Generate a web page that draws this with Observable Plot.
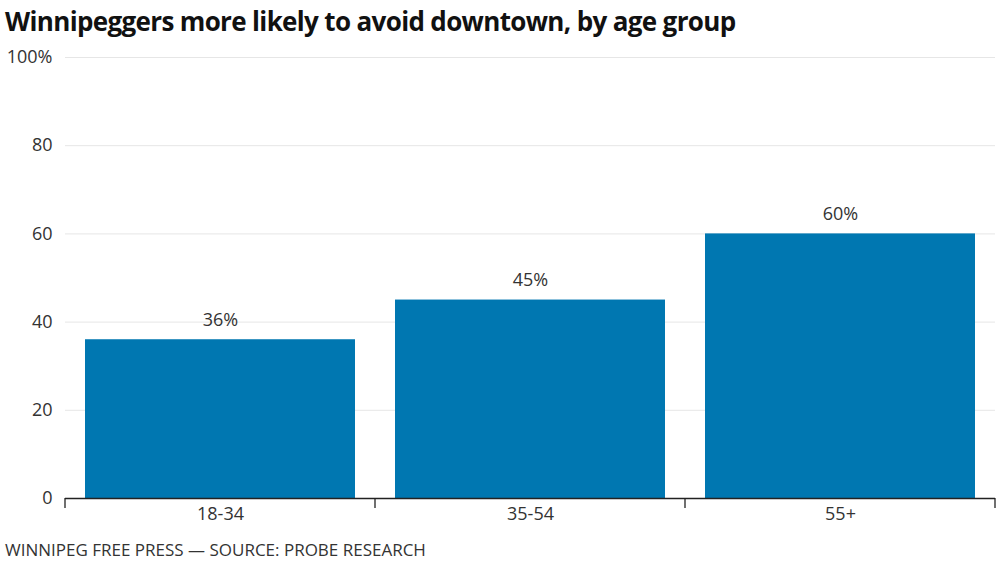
<!DOCTYPE html>
<html>
<head>
<meta charset="utf-8">
<script src="https://cdn.jsdelivr.net/npm/d3@7"></script>
<script src="https://cdn.jsdelivr.net/npm/@observablehq/plot@0.6"></script>
<style>
  html, body { margin: 0; padding: 0; background: #fff; }
  body { width: 1000px; height: 561px; overflow: hidden; font-family: "Open Sans", sans-serif; }
  #title { position: absolute; left: 5px; top: 3px; font-size: 26px; font-weight: 700; color: #111; letter-spacing: -0.65px; white-space: nowrap; }
  #chart { position: absolute; left: 0; top: 40px; }
  #caption { position: absolute; left: 5px; top: 538px; font-size: 17px; color: #333; white-space: nowrap; }
</style>
</head>
<body>
<div id="title">Winnipeggers more likely to avoid downtown, by age group</div>
<div id="chart"></div>
<div id="caption">WINNIPEG FREE PRESS — SOURCE: PROBE RESEARCH</div>
<script>
const categories = ["18-34", "35-54", "55+"];
const values = [36, 45, 60];
const yTicks = [0, 20, 40, 60, 80, 100];

const data = categories.map((c, i) => ({group: c, value: values[i]}));

const W = 1000, H = 490, ML = 65, MR = 5, MT = 17, MB = 32;
const pInner = 40 / 310, pOuter = 20 / 310;

const chart = Plot.plot({
  width: W,
  height: H,
  marginLeft: ML,
  marginRight: MR,
  marginTop: MT,
  marginBottom: MB,
  style: {fontFamily: "Open Sans, sans-serif", fontSize: "18px", color: "#333", background: "#fff"},
  x: {domain: categories, paddingInner: pInner, paddingOuter: pOuter, label: null},
  y: {domain: [0, 100], label: null},
  marks: [
    Plot.gridY(yTicks, {stroke: "#e6e6e6", strokeOpacity: 1, strokeWidth: 1}),
    Plot.axisY(yTicks, {tickSize: 0, tickPadding: 13, tickFormat: d => d === 100 ? "100%" : String(d), fontSize: 18, fill: "#333"}),
    Plot.axisX({tickSize: 0, tickPadding: 9, fontSize: 18, fill: "#333"}),
    Plot.barY(data, {x: "group", y: "value", fill: "#0077b1"}),
    Plot.text(data, {x: "group", y: "value", text: d => d.value + "%", dy: -20, fontSize: 18, fill: "#333"}),
    Plot.ruleY([0], {stroke: "#222", strokeWidth: 1.3})
  ]
});
document.getElementById("chart").appendChild(chart);

// boundary ticks of the band scale
const sx = chart.scale("x");
const step = sx.step ?? ((W - ML - MR) / categories.length);
const bw = sx.bandwidth ?? step * (1 - pInner);
const y0 = chart.scale("y").apply(0);
const bounds = categories.map(c => sx.apply(c) - (step - bw) / 2);
bounds.push(sx.apply(categories[categories.length - 1]) + bw + (step - bw) / 2);
d3.select(chart).append("g")
  .selectAll("line").data(bounds).join("line")
  .attr("x1", d => d).attr("x2", d => d)
  .attr("y1", y0).attr("y2", y0 + 10)
  .attr("stroke", "#222").attr("stroke-width", 1.3);
</script>
</body>
</html>
